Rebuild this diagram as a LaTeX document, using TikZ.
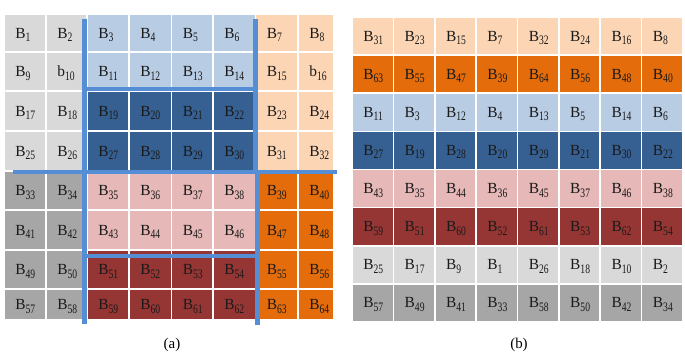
\documentclass[tikz,border=0pt]{standalone}
\usepackage{fontspec}
\usepackage{graphicx}
\setmainfont{Liberation Serif}
\definecolor{cLG}{HTML}{D9D9D9}
\definecolor{cLB}{HTML}{B8CCE4}
\definecolor{cDB}{HTML}{366092}
\definecolor{cPE}{HTML}{FCD5B4}
\definecolor{cGR}{HTML}{A6A6A6}
\definecolor{cPK}{HTML}{E6B8B7}
\definecolor{cDR}{HTML}{963634}
\definecolor{cOR}{HTML}{E46C0A}
\definecolor{cLine}{HTML}{558ED5}
\definecolor{cTxt}{HTML}{1A1A1A}
\newcommand\blab[2]{#1\raisebox{-3.5bp}{\scalebox{0.74}[1]{\fontsize{13}{13}\selectfont #2}}}
\tikzset{
  cellbox/.style={rectangle, inner sep=0pt, draw=none},
  celltext/.style={inner sep=0pt, anchor=base west, font=\fontsize{15.5}{15.5}\selectfont, text=cTxt},
  sepline/.style={draw=cLine, line width=4.5bp},
  caption/.style={inner sep=0pt, font=\fontsize{15}{15}\selectfont}
}
\begin{document}
\begin{tikzpicture}[x=1bp,y=-1bp]
\useasboundingbox (0,0) rectangle (685,356);
% ---------- grid (a) ----------
\foreach \p/\n/\col [count=\i from 0] in {
 B/1/cLG, B/2/cLG, B/3/cLB, B/4/cLB, B/5/cLB, B/6/cLB, B/7/cPE, B/8/cPE,
 B/9/cLG, b/10/cLG, B/11/cLB, B/12/cLB, B/13/cLB, B/14/cLB, B/15/cPE, b/16/cPE,
 B/17/cLG, B/18/cLG, B/19/cDB, B/20/cDB, B/21/cDB, B/22/cDB, B/23/cPE, B/24/cPE,
 B/25/cLG, B/26/cLG, B/27/cDB, B/28/cDB, B/29/cDB, B/30/cDB, B/31/cPE, B/32/cPE,
 B/33/cGR, B/34/cGR, B/35/cPK, B/36/cPK, B/37/cPK, B/38/cPK, B/39/cOR, B/40/cOR,
 B/41/cGR, B/42/cGR, B/43/cPK, B/44/cPK, B/45/cPK, B/46/cPK, B/47/cOR, B/48/cOR,
 B/49/cGR, B/50/cGR, B/51/cDR, B/52/cDR, B/53/cDR, B/54/cDR, B/55/cOR, B/56/cOR,
 B/57/cGR, B/58/cGR, B/59/cDR, B/60/cDR, B/61/cDR, B/62/cDR, B/63/cOR, B/64/cOR}
{
  \pgfmathtruncatemacro\r{\i/8}
  \pgfmathtruncatemacro\c{mod(\i,8)}
  \pgfmathsetmacro\xl{{4,46,87,129,171.5,213,255.5,298,334}[\c]}
  \pgfmathsetmacro\xr{{4,46,87,129,171.5,213,255.5,298,334}[\c+1]}
  \pgfmathsetmacro\yt{{14,52,91,131,171,210,250,289,320}[\r]}
  \pgfmathsetmacro\yb{{14,52,91,131,171,210,250,289,320}[\r+1]}
  \pgfmathsetmacro\w{\xr-\xl-1.6}
  \pgfmathsetmacro\h{\yb-\yt-1.6}
  \node[cellbox, fill=\col, minimum width=\w bp, minimum height=\h bp] (L\i) at ({(\xl+\xr)/2},{(\yt+\yb)/2}) {};
  \node[celltext] (LT\i) at ([xshift=10.5bp, yshift=-5bp]L\i.west) {\blab{\p}{\n}};
}
% ---------- grid (b) ----------
\foreach \col/\nums [count=\r from 0] in {
 cPE/{31,23,15,7,32,24,16,8},
 cOR/{63,55,47,39,64,56,48,40},
 cLB/{11,3,12,4,13,5,14,6},
 cDB/{27,19,28,20,29,21,30,22},
 cPK/{43,35,44,36,45,37,46,38},
 cDR/{59,51,60,52,61,53,62,54},
 cLG/{25,17,9,1,26,18,10,2},
 cGR/{57,49,41,33,58,50,42,34}}
{
  \foreach \n [count=\c from 0] in \nums {
    \pgfmathsetmacro\xc{352+41.375*(\c+0.5)}
    \pgfmathsetmacro\yc{17+38.125*(\r+0.5)}
    \node[cellbox, fill=\col, minimum width=39.8bp, minimum height=36.5bp] (R\r-\c) at (\xc,\yc) {};
    \node[celltext] (RT\r-\c) at ([xshift=10.5bp, yshift=-5bp]R\r-\c.west) {\blab{B}{\n}};
  }
}
% ---------- blue separator lines of (a) ----------
\coordinate (v1t) at (84.5,18.5);  \coordinate (v1b) at (84.5,324);
\coordinate (h1l) at (84.5,89);    \coordinate (h1r) at (257.5,89);
\coordinate (v2t) at (255.5,19);   \coordinate (v2b) at (255.5,172);
\coordinate (h2l) at (13,172);     \coordinate (h2r) at (337,172);
\coordinate (v3t) at (257.5,172);  \coordinate (v3b) at (257.5,325);
\coordinate (h3l) at (84.5,256);   \coordinate (h3r) at (257.5,256);
\draw[sepline] (v1t) -- (v1b);
\draw[sepline] (h1l) -- (h1r);
\draw[sepline] (v2t) -- (v2b);
\draw[sepline] (h2l) -- (h2r);
\draw[sepline] (v3t) -- (v3b);
\draw[sepline] (h3l) -- (h3r);
% ---------- captions ----------
\node[caption] (capa) at (172,345) {(a)};
\node[caption] (capb) at (519,345) {(b)};
\end{tikzpicture}
\end{document}
